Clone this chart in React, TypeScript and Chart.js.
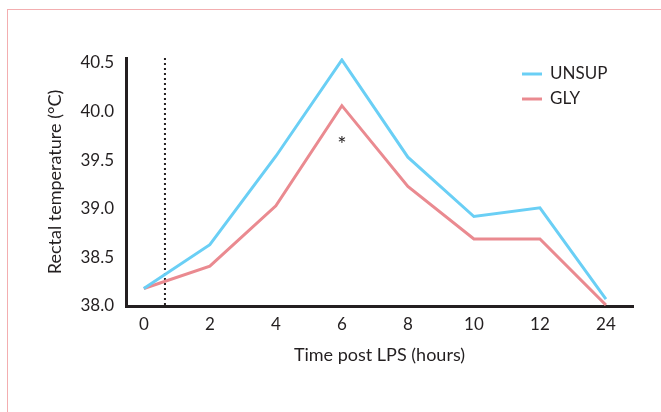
import React, { useEffect, useRef } from "react";
import { Chart, registerables } from "chart.js";

Chart.register(...registerables);

const timeLabels = ["0", "2", "4", "6", "8", "10", "12", "24"];
const unsupValues = [38.18, 38.63, 39.54, 40.53, 39.53, 38.92, 39.01, 38.07];
const glyValues = [38.18, 38.41, 39.03, 40.06, 39.23, 38.69, 38.69, 38.01];
const yTickValues = [38.0, 38.5, 39.0, 39.5, 40.0, 40.5];
const seriesNames = ["UNSUP", "GLY"];
const seriesColors = ["#6acff5", "#ea8a90"];
const lpsMarkerIndex = 0.32;
const significanceMarks = [{ index: 3, value: 39.66, text: "*" }];

const FONT = "Lato, 'Open Sans', sans-serif";
const TEXT = "#231f20";

export default function App() {
  const ref = useRef<HTMLCanvasElement | null>(null);

  useEffect(() => {
    if (!ref.current) return;

    const overlay = {
      id: "overlay",
      beforeDatasetsDraw(chart: any) {
        const { ctx, chartArea, scales } = chart;
        const x = scales.x.getPixelForValue(lpsMarkerIndex);
        ctx.save();
        ctx.strokeStyle = TEXT;
        ctx.lineWidth = 2;
        ctx.setLineDash([2, 3]);
        ctx.beginPath();
        ctx.moveTo(x, chartArea.top);
        ctx.lineTo(x, chartArea.bottom);
        ctx.stroke();
        ctx.restore();
      },
      afterDatasetsDraw(chart: any) {
        const { ctx, scales } = chart;
        ctx.save();
        ctx.fillStyle = TEXT;
        ctx.font = `22px ${FONT}`;
        ctx.textAlign = "center";
        ctx.textBaseline = "middle";
        significanceMarks.forEach((m) => {
          ctx.fillText(m.text, scales.x.getPixelForValue(m.index), scales.y.getPixelForValue(m.value));
        });
        // legend
        ctx.font = `17px ${FONT}`;
        const lx = 522;
        const ly = [74, 99];
        ctx.textAlign = "left";
        seriesNames.forEach((name, i) => {
          ctx.strokeStyle = seriesColors[i];
          ctx.lineWidth = 3;
          ctx.beginPath();
          ctx.moveTo(lx, ly[i]);
          ctx.lineTo(lx + 20, ly[i]);
          ctx.stroke();
          ctx.fillStyle = TEXT;
          ctx.fillText(name, lx + 28, ly[i]);
        });
        ctx.restore();
      },
    };

    const chart = new Chart(ref.current, {
      type: "line",
      data: {
        datasets: [
          {
            label: seriesNames[0],
            data: unsupValues.map((v, i) => ({ x: i, y: v })),
            borderColor: seriesColors[0],
            borderWidth: 3,
            pointRadius: 0,
            tension: 0,
          },
          {
            label: seriesNames[1],
            data: glyValues.map((v, i) => ({ x: i, y: v })),
            borderColor: seriesColors[1],
            borderWidth: 3,
            pointRadius: 0,
            tension: 0,
          },
        ],
      },
      options: {
        responsive: false,
        animation: false,
        layout: { padding: { left: 0, top: 58, right: 28, bottom: 0 } },
        plugins: { legend: { display: false }, tooltip: { enabled: false } },
        scales: {
          x: {
            type: "linear",
            min: -0.27,
            max: 7.41,
            grid: { display: false, drawTicks: false },
            border: { display: true, color: TEXT, width: 3 },
            afterBuildTicks: (s: any) => {
              s.ticks = timeLabels.map((_, i) => ({ value: i }));
            },
            afterFit: (s: any) => {
              s.height = 106;
            },
            ticks: {
              padding: 8,
              color: TEXT,
              font: { family: FONT, size: 17 },
              callback: (v: any) => timeLabels[Math.round(Number(v))] ?? "",
              maxRotation: 0,
            },
            title: {
              display: true,
              text: "Time post LPS (hours)",
              color: TEXT,
              font: { family: FONT, size: 18 },
              padding: 46,
            },
          },
          y: {
            type: "linear",
            min: 38.0,
            max: 40.55,
            grid: { display: false, drawTicks: false },
            border: { display: true, color: TEXT, width: 3 },
            afterBuildTicks: (s: any) => {
              s.ticks = yTickValues.map((v) => ({ value: v }));
            },
            afterFit: (s: any) => {
              s.width = 126;
            },
            ticks: {
              padding: 12,
              color: TEXT,
              font: { family: FONT, size: 17 },
              callback: (v: any) => Number(v).toFixed(1),
            },
            title: {
              display: true,
              text: "Rectal temperature (°C)",
              color: TEXT,
              font: { family: FONT, size: 18 },
              padding: 44,
            },
          },
        },
      },
      plugins: [overlay],
    } as any);

    return () => chart.destroy();
  }, []);

  return (
    <div style={{ position: "absolute", left: 0, top: 0, width: 661, height: 412, background: "#fff", overflow: "hidden" }}>
      <div
        style={{
          position: "absolute",
          left: 7,
          top: 9,
          width: 700,
          height: 500,
          borderTop: "1px solid #f3aeb0",
          borderLeft: "1px solid #f3aeb0",
        }}
      />
      <canvas ref={ref} width={661} height={412} style={{ position: "absolute", left: 0, top: 0 }} />
    </div>
  );
}
